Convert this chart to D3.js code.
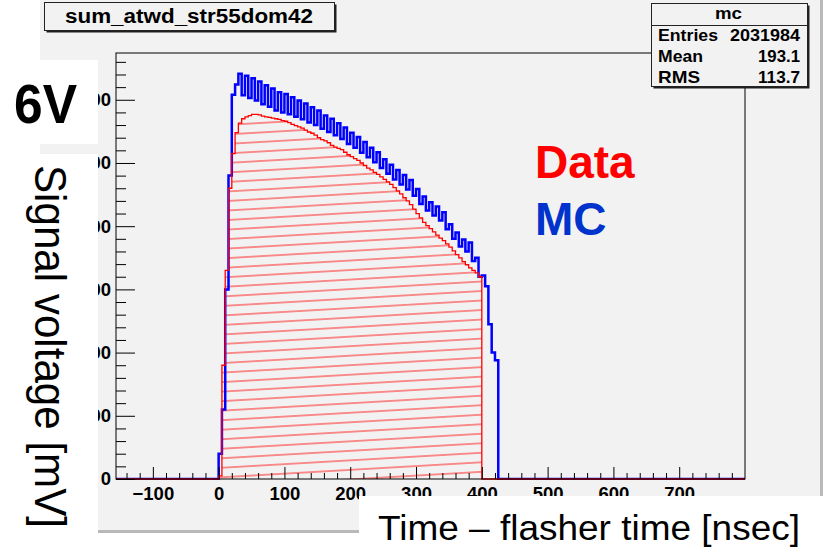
<!DOCTYPE html>
<html><head><meta charset="utf-8">
<script src="https://cdn.jsdelivr.net/npm/d3@7"></script>
<style>
body{margin:0;background:#fff;}
svg{display:block;}
text{font-family:"Liberation Sans",Arial,Helvetica,sans-serif;}
</style>
</head><body>
<svg id="c" width="827" height="555"></svg>
<script>
// ---------- data ----------
const histTitle = "sum_atwd_str55dom42";
const statsName = "mc";
const statsLabels = ["Entries", "Mean", "RMS"];
const statsValues = ["2031984", "193.1", "113.7"];
const xTickValues = [-100, 0, 100, 200, 300, 400, 500, 600, 700];
const yTickValues = [0, 100, 200, 300, 400, 500, 600];
const xDomain = [-156, 800];
const yDomain = [0, 674];
const binStart = 0;      // ns
const binWidth = 5;      // ns
// MC (blue), one value per 5 ns bin starting at 0 ns
const mcValues = [
  40, 110, 300, 480, 608, 624, 641, 607, 638, 603,
  634, 599, 629, 593, 623, 589, 618, 583, 612, 580,
  609, 577, 604, 573, 599, 569, 594, 564, 588, 560,
  583, 554, 575, 549, 570, 544, 563, 538, 556, 530,
  548, 524, 541, 516, 533, 509, 524, 501, 517, 492,
  506, 483, 497, 474, 489, 466, 481, 458, 473, 448,
  459, 435, 447, 425, 438, 417, 431, 409, 422, 395,
  403, 380, 390, 368, 379, 360, 374, 345, 350, 320,
  322, 305, 245, 200, 188
];
// Data (red), one value per 5 ns bin starting at 0 ns
const dataValues = [
  5, 180, 330, 460, 515, 548, 563, 570, 573, 575,
  577, 577, 576, 574, 573, 572, 571, 570, 569, 567,
  566, 564, 561, 559, 557, 555, 552, 549, 547, 544,
  540, 537, 535, 532, 528, 525, 523, 521, 517, 513,
  510, 507, 504, 500, 496, 492, 489, 485, 482, 478,
  474, 470, 466, 461, 456, 451, 445, 440, 434, 427,
  420, 413, 406, 401, 396, 391, 386, 381, 377, 372,
  367, 361, 355, 350, 344, 339, 334, 330, 326, 320
];
const legendLabels = ["Data", "MC"];
const voltLabel = "6V";
const xTitle = "Time \u2013 flasher time [nsec]";
const yTitle = "Signal voltage [mV]";

// ---------- layout ----------
const svg = d3.select("#c");
const F = {l:116, r:745, t:53, b:479};
const bg = "#f2f2f2";

// canvas
svg.append("rect").attr("x",40).attr("y",0).attr("width",780).attr("height",530).attr("fill",bg);
svg.append("rect").attr("x",820).attr("y",0).attr("width",3).attr("height",533).attr("fill","#b9b9b9");
svg.append("rect").attr("x",40).attr("y",530).attr("width",783).attr("height",3).attr("fill","#b9b9b9");

const x = d3.scaleLinear().domain(xDomain).range([F.l, F.r]);
const y = d3.scaleLinear().domain(yDomain).range([F.b, F.t]);

const defs = svg.append("defs");
defs.append("clipPath").attr("id","fc").append("rect")
  .attr("x",F.l).attr("y",F.t).attr("width",F.r-F.l).attr("height",F.b-F.t+1);
const pat = defs.append("pattern").attr("id","hatch").attr("patternUnits","userSpaceOnUse")
  .attr("width",60).attr("height",9.5).attr("patternTransform","rotate(-3.3)");
pat.append("line").attr("x1",0).attr("x2",60).attr("y1",4.75).attr("y2",4.75)
  .attr("stroke","#ff2020").attr("stroke-width",1.1);

// frame fill
svg.append("rect").attr("x",F.l).attr("y",F.t).attr("width",F.r-F.l).attr("height",F.b-F.t).attr("fill",bg);

function histPoints(vals){
  const pts = [{t:xDomain[0], v:0}];
  vals.forEach((v,i)=>pts.push({t:binStart+i*binWidth, v:v}));
  pts.push({t:binStart+vals.length*binWidth, v:0});
  pts.push({t:xDomain[1], v:0});
  return pts;
}
const mcPts = histPoints(mcValues);
const dataPts = histPoints(dataValues);

const g = svg.append("g").attr("clip-path","url(#fc)");
const area = d3.area().curve(d3.curveStepAfter).x(d=>x(d.t)).y0(y(0)).y1(d=>y(d.v));
const line = d3.line().curve(d3.curveStepAfter).x(d=>x(d.t)).y(d=>y(d.v));

g.append("path").datum(dataPts).attr("d",area).attr("fill","url(#hatch)");
g.append("path").datum(mcPts).attr("d",line).attr("fill","none").attr("stroke","#0000ff").attr("stroke-width",2.5);
g.append("path").datum(dataPts).attr("d",line).attr("fill","none").attr("stroke","#ff0000").attr("stroke-width",1.3);

// frame border
svg.append("rect").attr("x",F.l).attr("y",F.t).attr("width",F.r-F.l).attr("height",F.b-F.t)
  .attr("fill","none").attr("stroke","#000").attr("stroke-width",1);

// axes
const xMinor = d3.range(-140, 800, 20).filter(v=>v%100!==0);
const yMinor = d3.range(20, 674, 20).filter(v=>v%100!==0);

const gxm = svg.append("g").attr("transform",`translate(0,${F.b})`)
  .call(d3.axisBottom(x).tickValues(xMinor).tickSize(-6).tickFormat(""));
const gx = svg.append("g").attr("transform",`translate(0,${F.b})`)
  .call(d3.axisBottom(x).tickValues(xTickValues).tickSize(-12).tickPadding(8));
const gym = svg.append("g").attr("transform",`translate(${F.l},0)`)
  .call(d3.axisLeft(y).tickValues(yMinor).tickSize(-10).tickFormat(""));
const gy = svg.append("g").attr("transform",`translate(${F.l},0)`)
  .call(d3.axisLeft(y).tickValues(yTickValues).tickSize(-19).tickPadding(5));
[gxm,gx,gym,gy].forEach(a=>{
  a.select(".domain").remove();
  a.selectAll("line").attr("stroke","#000").attr("stroke-width",1);
  a.selectAll("text").attr("font-family","'Liberation Sans',Arial,sans-serif")
    .attr("font-weight","bold").attr("font-size",18.5).attr("fill","#000");
});

// title box
function shadowBox(x0,y0,w,h){
  svg.append("rect").attr("x",x0+2).attr("y",y0+2).attr("width",w).attr("height",h).attr("fill","#202020");
  svg.append("rect").attr("x",x0).attr("y",y0).attr("width",w).attr("height",h)
    .attr("fill",bg).attr("stroke","#222").attr("stroke-width",1);
}
shadowBox(44.5,2.5,290,28);
svg.append("text").attr("x",65).attr("y",22.5).attr("font-size",20).attr("font-weight","bold")
  .attr("textLength",248).attr("lengthAdjust","spacingAndGlyphs").text(histTitle);

// stats box
shadowBox(651.5,3.5,156,83);
svg.append("line").attr("x1",651.5).attr("x2",807.5).attr("y1",25.5).attr("y2",25.5).attr("stroke","#222");
svg.append("text").attr("x",715).attr("y",19).attr("font-size",16.5)
  .attr("font-weight","bold").attr("textLength",27).attr("lengthAdjust","spacingAndGlyphs").text(statsName);
const rowY = [40.5, 61.5, 82.5];
const labW = [60, 45, 42];
const valW = [70, 42, 42];
statsLabels.forEach((s,i)=>{
  svg.append("text").attr("x",658).attr("y",rowY[i]).attr("font-size",16.5).attr("font-weight","bold")
    .attr("textLength",labW[i]).attr("lengthAdjust","spacingAndGlyphs").text(s);
  svg.append("text").attr("x",800-valW[i]).attr("y",rowY[i]).attr("font-size",16.5).attr("font-weight","bold")
    .attr("textLength",valW[i]).attr("lengthAdjust","spacingAndGlyphs").text(statsValues[i]);
});

// legend text
svg.append("text").attr("x",535).attr("y",178).attr("font-size",46).attr("font-weight","bold")
  .attr("fill","#ff0000").text(legendLabels[0]);
svg.append("text").attr("x",535).attr("y",235).attr("font-size",46).attr("font-weight","bold")
  .attr("fill","#0033cc").text(legendLabels[1]);

// white overlay boxes
svg.append("rect").attr("x",0).attr("y",60).attr("width",98).attr("height",84).attr("fill","#fff");
svg.append("rect").attr("x",0).attr("y",154).attr("width",98).attr("height",401).attr("fill","#fff");
svg.append("rect").attr("x",359).attr("y",496).attr("width",468).attr("height",59).attr("fill","#fff");

svg.append("text").attr("x",14).attr("y",123).attr("font-size",55).attr("font-weight","bold")
  .attr("textLength",63).attr("lengthAdjust","spacingAndGlyphs").text(voltLabel);
svg.append("text").attr("transform","translate(35,165) rotate(90)").attr("font-size",45)
  .attr("textLength",363).attr("lengthAdjust","spacingAndGlyphs").text(yTitle);
svg.append("text").attr("x",378).attr("y",540).attr("font-size",35)
  .attr("textLength",422).attr("lengthAdjust","spacingAndGlyphs").text(xTitle);
</script>
</body></html>
